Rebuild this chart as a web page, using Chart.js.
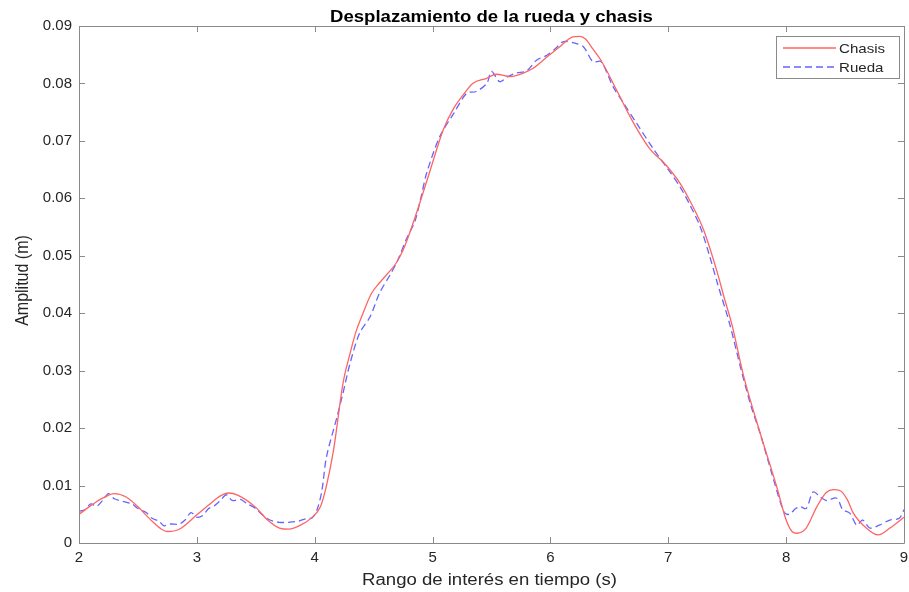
<!DOCTYPE html>
<html>
<head>
<meta charset="utf-8">
<script src="https://cdn.jsdelivr.net/npm/chart.js@4.4.1/dist/chart.umd.min.js"></script>
<style>
  html, body { margin: 0; padding: 0; background: #ffffff; }
  #wrap { width: 909px; height: 592px; }
</style>
</head>
<body>
<div id="wrap"><canvas id="c" width="909" height="592"></canvas></div>
<script>
// ---- Data ----
const chartTitle = "Desplazamiento de la rueda y chasis";
const xLabel = "Rango de interés en tiempo (s)";
const yLabel = "Amplitud (m)";
const seriesNames = ["Chasis", "Rueda"];

const chasisT = [2.00,2.10,2.20,2.30,2.40,2.50,2.60,2.70,2.75,2.85,3.00,3.10,3.20,3.27,3.35,3.50,3.60,3.70,3.78,3.88,3.98,4.05,4.10,4.16,4.24,4.30,4.35,4.40,4.48,4.55,4.61,4.69,4.75,4.82,4.89,4.98,5.09,5.18,5.26,5.34,5.46,5.54,5.66,5.77,5.85,5.97,6.08,6.19,6.25,6.30,6.36,6.43,6.56,6.70,6.84,6.98,7.10,7.18,7.30,7.41,7.48,7.54,7.64,7.78,7.92,8.00,8.05,8.09,8.17,8.26,8.34,8.40,8.46,8.52,8.57,8.68,8.78,8.88,9.00];
const chasisY = [0.0050,0.0065,0.0078,0.0086,0.0080,0.0063,0.0042,0.0024,0.0020,0.0024,0.0049,0.0066,0.0082,0.0087,0.0083,0.0062,0.0040,0.0026,0.0024,0.0031,0.0045,0.0064,0.0100,0.0162,0.0278,0.0330,0.0368,0.0395,0.0434,0.0453,0.0467,0.0487,0.0510,0.0548,0.0591,0.0649,0.0719,0.0757,0.0780,0.0800,0.0809,0.0816,0.0812,0.0818,0.0826,0.0846,0.0864,0.0881,0.0882,0.0877,0.0860,0.0840,0.0789,0.0733,0.0687,0.0658,0.0626,0.0597,0.0545,0.0475,0.0423,0.0380,0.0290,0.0191,0.0098,0.0040,0.0020,0.0017,0.0026,0.0063,0.0088,0.0093,0.0091,0.0075,0.0052,0.0026,0.0014,0.0026,0.0045];

const ruedaT = [2.00,2.05,2.10,2.15,2.20,2.25,2.30,2.38,2.45,2.50,2.57,2.62,2.68,2.72,2.77,2.85,2.90,2.95,3.00,3.05,3.10,3.15,3.20,3.25,3.30,3.37,3.43,3.50,3.55,3.62,3.70,3.78,3.86,3.92,3.98,4.02,4.06,4.10,4.19,4.24,4.30,4.38,4.47,4.55,4.64,4.70,4.78,4.85,4.90,4.95,5.06,5.18,5.29,5.37,5.46,5.50,5.57,5.64,5.71,5.80,5.88,5.97,6.05,6.11,6.21,6.28,6.36,6.43,6.53,6.62,6.73,6.87,7.00,7.10,7.18,7.27,7.35,7.42,7.52,7.62,7.70,7.78,7.88,7.96,7.99,8.03,8.08,8.12,8.17,8.23,8.29,8.34,8.43,8.48,8.54,8.60,8.65,8.71,8.79,8.88,8.96,9.00];
const ruedaY = [0.0055,0.0058,0.0068,0.0064,0.0074,0.0086,0.0077,0.0072,0.0068,0.0060,0.0053,0.0043,0.0038,0.0030,0.0033,0.0033,0.0040,0.0053,0.0045,0.0048,0.0060,0.0065,0.0074,0.0084,0.0074,0.0076,0.0068,0.0060,0.0050,0.0040,0.0036,0.0036,0.0038,0.0042,0.0044,0.0058,0.0090,0.0150,0.0220,0.0261,0.0313,0.0365,0.0394,0.0435,0.0467,0.0490,0.0530,0.0560,0.0600,0.0644,0.0707,0.0748,0.0783,0.0786,0.0800,0.0821,0.0803,0.0812,0.0818,0.0822,0.0840,0.0849,0.0862,0.0873,0.0870,0.0864,0.0838,0.0838,0.0795,0.0766,0.0731,0.0687,0.0650,0.0620,0.0590,0.0551,0.0500,0.0450,0.0382,0.0300,0.0240,0.0190,0.0120,0.0065,0.0052,0.0050,0.0060,0.0063,0.0060,0.0089,0.0080,0.0074,0.0078,0.0058,0.0052,0.0031,0.0040,0.0026,0.0031,0.0040,0.0043,0.0058];

const xMin = 2, xMax = 9, xStep = 1;
const yMin = 0, yMax = 0.09, yStep = 0.01;

// ---- Build datasets ----
const toPts = (t, y) => t.map((v, i) => ({ x: v, y: y[i] }));
const axisColor = '#8a8a8a';
const textColor = '#262626';
const FONT = '"Liberation Sans", Arial, sans-serif';
const SX = 1.16; // the reference text is horizontally wide

function wideText(ctx, text, x, y, font, color, align, baseline, rotate) {
  ctx.save();
  ctx.font = font;
  ctx.fillStyle = color;
  ctx.textAlign = align;
  ctx.textBaseline = baseline;
  ctx.translate(x, y);
  if (rotate) { ctx.rotate(-Math.PI / 2); ctx.scale(1, SX); }
  else { ctx.scale(SX, 1); }
  ctx.fillText(text, 0, 0);
  ctx.restore();
}

const matlabBox = {
  id: 'matlabBox',
  afterDatasetsDraw(chart) {
    const { ctx, chartArea: a, scales: { x, y } } = chart;
    ctx.save();
    ctx.strokeStyle = axisColor;
    ctx.lineWidth = 1;
    ctx.beginPath();
    ctx.rect(Math.round(a.left) + 0.5, Math.round(a.top) + 0.5, Math.round(a.right - a.left), Math.round(a.bottom - a.top));
    ctx.stroke();
    const tl = 6;
    ctx.beginPath();
    for (let v = xMin; v <= xMax + 1e-9; v += xStep) {
      const px = Math.round(x.getPixelForValue(v)) + 0.5;
      ctx.moveTo(px, a.bottom); ctx.lineTo(px, a.bottom - tl);
      ctx.moveTo(px, a.top); ctx.lineTo(px, a.top + tl);
    }
    for (let k = 0; k <= Math.round((yMax - yMin) / yStep); k++) {
      const py = Math.round(y.getPixelForValue(yMin + k * yStep)) + 0.5;
      ctx.moveTo(a.left, py); ctx.lineTo(a.left + tl, py);
      ctx.moveTo(a.right, py); ctx.lineTo(a.right - tl, py);
    }
    ctx.stroke();

    // legend box (inside, top-right)
    const lx = 776, ly = 36, lw = 123, lh = 42;
    ctx.fillStyle = '#ffffff';
    ctx.fillRect(lx, ly, lw, lh);
    ctx.strokeStyle = '#8a8a8a';
    ctx.strokeRect(lx + 0.5, ly + 0.5, lw, lh);
    chart.data.datasets.forEach((ds, i) => {
      const yy = ly + 12 + i * 19;
      ctx.strokeStyle = ds.borderColor;
      ctx.lineWidth = 1.3;
      ctx.setLineDash(ds.borderDash || []);
      ctx.beginPath();
      ctx.moveTo(lx + 7, yy); ctx.lineTo(lx + 60, yy);
      ctx.stroke();
      ctx.setLineDash([]);
      wideText(ctx, ds.label, lx + 63, yy + 1, '13px ' + FONT, textColor, 'left', 'middle', false);
    });
    ctx.restore();

    // title and axis titles
    const cx = (a.left + a.right) / 2;
    const cy = (a.top + a.bottom) / 2;
    wideText(ctx, chartTitle, cx, 21.5, 'bold 16px ' + FONT, '#000000', 'center', 'alphabetic', false);
    wideText(ctx, xLabel, cx - 2, 585, '16px ' + FONT, textColor, 'center', 'alphabetic', false);
    wideText(ctx, yLabel, 28, cy - 4, '16px ' + FONT, textColor, 'center', 'alphabetic', true);
  }
};

new Chart(document.getElementById('c'), {
  type: 'line',
  data: {
    datasets: [
      {
        label: seriesNames[0],
        data: toPts(chasisT, chasisY),
        borderColor: '#ff6464',
        borderWidth: 1.3,
        pointRadius: 0,
        fill: false,
        cubicInterpolationMode: 'monotone'
      },
      {
        label: seriesNames[1],
        data: toPts(ruedaT, ruedaY),
        borderColor: '#6464ff',
        borderWidth: 1.3,
        borderDash: [7, 4],
        pointRadius: 0,
        fill: false,
        tension: 0.3
      }
    ]
  },
  options: {
    responsive: false,
    animation: false,
    layout: { padding: { left: 0, right: 0, top: 26, bottom: 0 } },
    plugins: {
      legend: { display: false },
      tooltip: { enabled: false },
      title: { display: false }
    },
    scales: {
      x: {
        type: 'linear',
        min: xMin, max: xMax,
        grid: { display: false, drawTicks: false },
        border: { display: false },
        ticks: {
          stepSize: xStep, color: textColor, padding: 6,
          font: { family: FONT, size: 15 },
          maxRotation: 0
        },
        afterFit(s) { s.height = 49; s.paddingRight = 5; s.paddingLeft = 0; }
      },
      y: {
        type: 'linear',
        min: yMin, max: yMax,
        grid: { display: false, drawTicks: false },
        border: { display: false },
        ticks: {
          stepSize: yStep, color: textColor, padding: 7,
          font: { family: FONT, size: 15 },
          callback: (v) => (Math.abs(v) < 1e-9 ? '0' : Number(v).toFixed(2))
        },
        afterFit(s) { s.width = 79; }
      }
    }
  },
  plugins: [matlabBox]
});
</script>
</body>
</html>
